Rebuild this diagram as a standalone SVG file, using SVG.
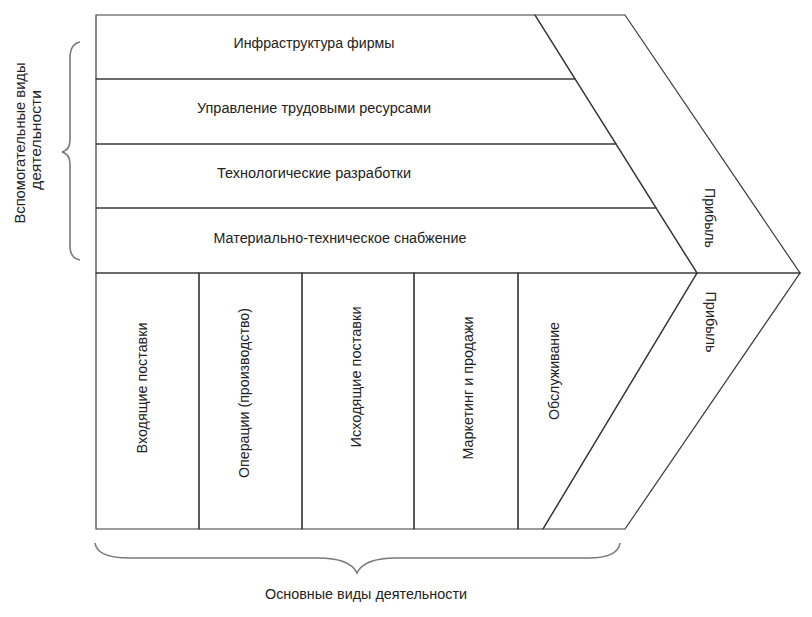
<svg xmlns="http://www.w3.org/2000/svg" width="812" height="617" viewBox="0 0 812 617">
<style>
  .box { fill: none; stroke: #3a3a3a; stroke-width: 1.2; stroke-linejoin: miter; }
  .brace { fill: none; stroke: #7a7a7a; stroke-width: 1.6; }
  .t { font-family: "Liberation Sans", Arial, sans-serif; font-size: 14px; fill: #222; text-anchor: middle; }
</style>
<rect width="812" height="617" fill="#ffffff"/>

<g id="support-infrastructure">
  <polygon class="box" points="96,15 535,15 575,79 96,79"/>
  <text class="t" x="314" y="48" textLength="161" lengthAdjust="spacingAndGlyphs">Инфраструктура фирмы</text>
</g>
<g id="support-hr">
  <polygon class="box" points="96,79 575,79 616,144 96,144"/>
  <text class="t" x="314" y="113" textLength="234" lengthAdjust="spacingAndGlyphs">Управление трудовыми ресурсами</text>
</g>
<g id="support-tech">
  <polygon class="box" points="96,144 616,144 656,208 96,208"/>
  <text class="t" x="314" y="178" textLength="194" lengthAdjust="spacingAndGlyphs">Технологические разработки</text>
</g>
<g id="support-procurement">
  <polygon class="box" points="96,208 656,208 697,273 96,273"/>
  <text class="t" x="340" y="243" textLength="253" lengthAdjust="spacingAndGlyphs">Материально-техническое снабжение</text>
</g>

<g id="primary-inbound">
  <polygon class="box" points="96,273 199,273 199,529 96,529"/>
  <text class="t" transform="translate(147,388) rotate(-90)" textLength="131" lengthAdjust="spacingAndGlyphs">Входящие поставки</text>
</g>
<g id="primary-operations">
  <polygon class="box" points="199,273 302,273 302,529 199,529"/>
  <text class="t" transform="translate(249,393) rotate(-90)" textLength="170" lengthAdjust="spacingAndGlyphs">Операции (производство)</text>
</g>
<g id="primary-outbound">
  <polygon class="box" points="302,273 414,273 414,529 302,529"/>
  <text class="t" transform="translate(361,377) rotate(-90)" textLength="141" lengthAdjust="spacingAndGlyphs">Исходящие поставки</text>
</g>
<g id="primary-marketing">
  <polygon class="box" points="414,273 518,273 518,529 414,529"/>
  <text class="t" transform="translate(473,388) rotate(-90)" textLength="143" lengthAdjust="spacingAndGlyphs">Маркетинг и продажи</text>
</g>
<g id="primary-service">
  <polygon class="box" points="518,273 697,273 543,529 518,529"/>
  <text class="t" transform="translate(559,371) rotate(-90)" textLength="98" lengthAdjust="spacingAndGlyphs">Обслуживание</text>
</g>

<g id="margin-upper">
  <polygon class="box" points="535,15 625,15 800,273 697,273"/>
  <text class="t" transform="translate(705,218) rotate(90)" textLength="60" lengthAdjust="spacingAndGlyphs">Прибыль</text>
</g>
<g id="margin-lower">
  <polygon class="box" points="697,273 800,273 625,529 543,529"/>
  <text class="t" transform="translate(706,322) rotate(90)" textLength="61" lengthAdjust="spacingAndGlyphs">Прибыль</text>
</g>

<g id="support-label">
  <path class="brace" d="M80,42 Q70,44 70,58 L70,140 Q70,150 62,152 Q70,154 70,164 L70,246 Q70,258 80,260"/>
  <text class="t" transform="translate(25,143) rotate(-90)" textLength="161" lengthAdjust="spacingAndGlyphs">Вспомогательные виды</text>
  <text class="t" transform="translate(41,140) rotate(-90)" textLength="100" lengthAdjust="spacingAndGlyphs">деятельности</text>
</g>

<g id="primary-label">
  <path class="brace" d="M95,543 Q97,558 130,558 L318,558 Q350,558 357,573 Q364,558 396,558 L588,558 Q618,558 620,543"/>
  <text class="t" x="366" y="599" textLength="202" lengthAdjust="spacingAndGlyphs">Основные виды деятельности</text>
</g>

<g id="connectors"></g>
</svg>
